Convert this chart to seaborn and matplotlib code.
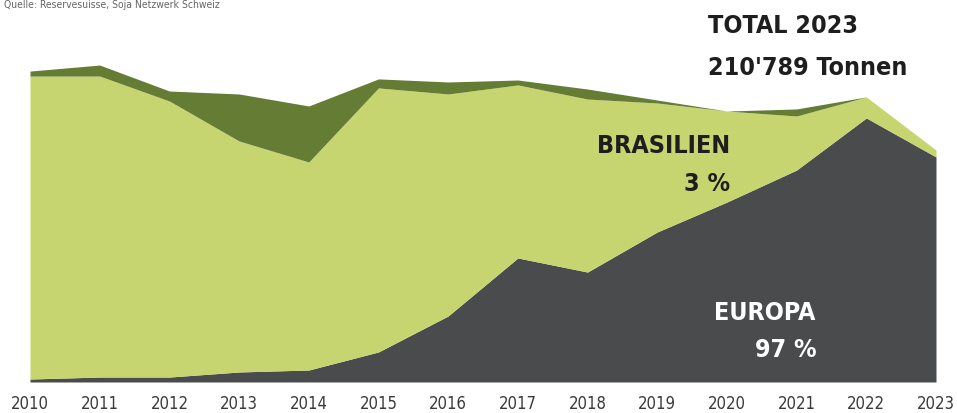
import numpy as np
import pandas as pd
import matplotlib
matplotlib.use("Agg")
import matplotlib.pyplot as plt
import seaborn as sns

# Tonnen je Jahr, Herkunft
years = [2010, 2011, 2012, 2013, 2014, 2015, 2016, 2017, 2018, 2019, 2020, 2021, 2022, 2023]
europa = [2700, 4500, 4500, 9100, 10900, 27300, 60000, 112700, 99900, 136300, 163500, 192600, 239900, 204500]
brasilien = [275300, 273500, 250800, 209900, 189000, 239900, 201700, 157200, 157200, 117200, 82700, 49100, 19100, 6300]
andere = [4500, 10000, 9100, 42700, 50900, 8200, 10900, 4500, 9100, 2700, 0, 6400, 0, 0]

col_europa = "#4a4b4d"
col_brasilien = "#c6d56f"
col_andere = "#657c34"

df = pd.DataFrame({"Jahr": years, "Europa": europa, "Brasilien": brasilien, "Andere": andere})

sns.set_theme(style="white")
plt.rcParams["font.family"] = ["DejaVu Sans"]
plt.rcParams["font.stretch"] = "condensed"

fig = plt.figure(figsize=(9.57, 4.14), dpi=100)
ax = fig.add_axes([30 / 957, 31 / 414, 906 / 957, 383 / 414])

ax.stackplot(df["Jahr"], df["Europa"], df["Brasilien"], df["Andere"],
             colors=[col_europa, col_brasilien, col_andere], linewidth=0)

ax.set_xlim(2010, 2023)
ax.set_ylim(0, 348000)
ax.set_yticks([])
ax.set_xticks(years)
ax.set_xticklabels([str(y) for y in years], fontsize=12, color="#3a3a3a",
                   fontstretch="condensed")
ax.tick_params(axis="x", length=0, pad=9)
for s in ax.spines.values():
    s.set_visible(False)
ax.set_xlabel("")
ax.set_ylabel("")

fig.text(4 / 957, 1 - 5 / 414, "Quelle: Reservesuisse, Soja Netzwerk Schweiz",
         fontsize=7.5, color="#666666", va="center", ha="left", fontstretch="condensed")

big = dict(fontsize=18, fontweight="bold", fontstretch="condensed")
fig.text(708 / 957, 1 - 26 / 414, "TOTAL 2023", ha="left", va="center", color="#1e1e1e", **big)
fig.text(708 / 957, 1 - 68 / 414, "210'789 Tonnen", ha="left", va="center", color="#1e1e1e", **big)
fig.text(730 / 957, 1 - 146 / 414, "BRASILIEN", ha="right", va="center", color="#1e1e1e", **big)
fig.text(730 / 957, 1 - 184 / 414, "3 %", ha="right", va="center", color="#1e1e1e", **big)
fig.text(815 / 957, 1 - 313 / 414, "EUROPA", ha="right", va="center", color="white", **big)
fig.text(817 / 957, 1 - 350 / 414, "97 %", ha="right", va="center", color="white", **big)

fig.savefig("out.png", dpi=100)
